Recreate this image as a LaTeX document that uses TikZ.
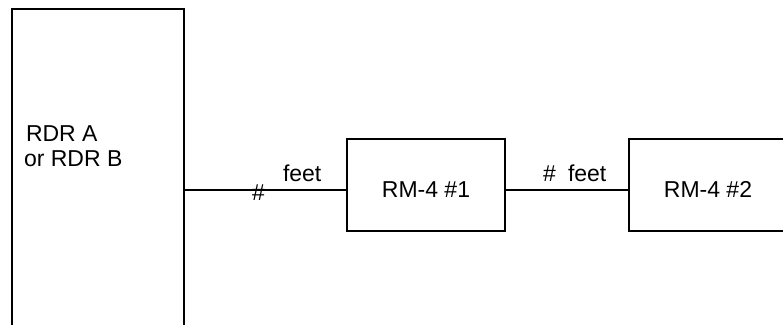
\documentclass[tikz,border=0pt]{standalone}
\usepackage{fontspec}
\setmainfont{Liberation Sans}
\usetikzlibrary{calc}

\begin{document}
\begin{tikzpicture}[x=1pt,y=-1pt,line width=2pt,font=\fontsize{23}{25}\selectfont,
    unit/.style={draw,inner sep=0pt,minimum width=158pt,minimum height=92pt,text height=24pt,text depth=0pt},
    lbl/.style={inner sep=0pt,anchor=base west}]
        % размеры в пикселях рисунка, y вниз
        \useasboundingbox (0,0) rectangle (783,324);

        % RDR уходит за нижний край, RM-4 #2 за правый
        \node[draw,inner sep=0pt,minimum width=172pt,minimum height=352pt] (rdr) at (98,185) {};
        \node[unit] (rmone) at (426,185) {RM-4 \#1};
        \node[unit] (rmtwo) at (708,185) {RM-4 \#2};

        \node[lbl] (rdra) at (25,141.7) {RDR A};
        \node[lbl] (rdrb) at (23,166.7) {or RDR B};

        \coordinate (tap) at (0,190);
        \draw (rdr.east |- tap) -- (rmone.west |- tap);
        \draw (rmone.east |- tap) -- (rmtwo.west |- tap);

        \node[lbl] (hashone) at (251,200) {\#};
        \node[lbl] (feetone) at (282,181.5) {feet};
        \node[lbl] (hashtwo) at (542,181.5) {\#};
        \node[lbl] (feettwo) at (567,181.5) {feet};
    \end{tikzpicture}
\end{document}
